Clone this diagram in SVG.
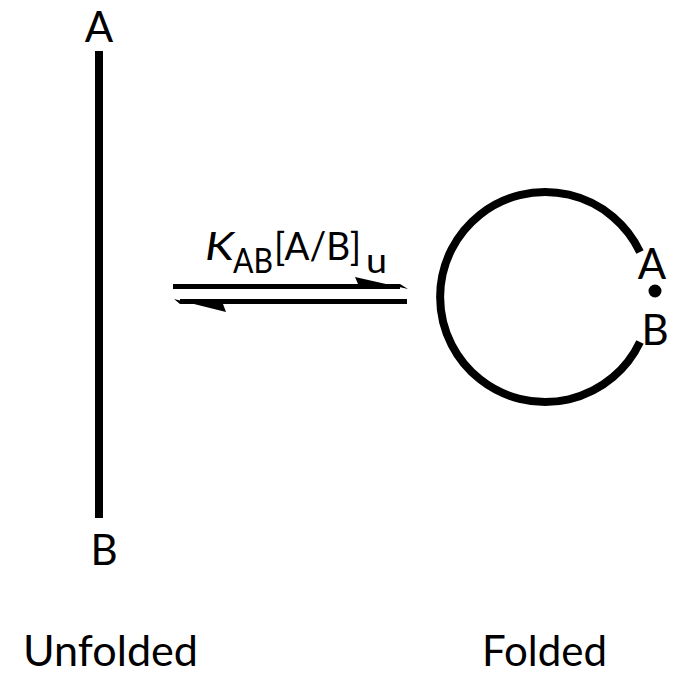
<svg xmlns="http://www.w3.org/2000/svg" width="684" height="675" viewBox="0 0 684 675">
<style>
text{font-family:Lato,"Open Sans","Liberation Sans",sans-serif;fill:#000}
.lbl{font-size:42px}
.big{font-size:42px}
.sub{font-size:35px}
</style>
<rect width="684" height="675" fill="#fff"/>
<g id="unfolded">
<line x1="99" y1="51" x2="99" y2="518" stroke="#000" stroke-width="8"/>
<text class="lbl" x="99" y="42" text-anchor="middle">A</text>
<text class="lbl" x="104" y="565" text-anchor="middle">B</text>
<text class="big" x="23" y="666" textLength="175" lengthAdjust="spacingAndGlyphs">Unfolded</text>
</g>
<g id="folded">
<path d="M640,252 A105,105 0 1 0 640,342" fill="none" stroke="#000" stroke-width="8"/>
<circle cx="655" cy="291" r="6.5" fill="#000"/>
<text class="lbl" x="652" y="279" text-anchor="middle">A</text>
<text class="lbl" x="655" y="345" text-anchor="middle">B</text>
<text class="big" x="482" y="666" textLength="125" lengthAdjust="spacingAndGlyphs">Folded</text>
</g>
<g id="connectors">
<path d="M173,286.5 H400" stroke="#000" stroke-width="5" fill="none"/>
<path d="M408,289 L355,277 L358,284 L400,284 Z" fill="#000"/>
<path d="M180,301.5 H407" stroke="#000" stroke-width="5" fill="none"/>
<path d="M174,299 L226,312 L223,304 L180,304 Z" fill="#000"/>
<text font-size="39"><tspan x="205" y="260" font-style="italic" textLength="29" lengthAdjust="spacingAndGlyphs">K</tspan><tspan class="sub" x="233" y="273" textLength="40" lengthAdjust="spacingAndGlyphs">AB</tspan><tspan x="274" y="260" textLength="87" lengthAdjust="spacingAndGlyphs">[A/B]</tspan><tspan class="sub" x="366" y="273" textLength="21" lengthAdjust="spacingAndGlyphs">u</tspan></text>
</g>
</svg>
